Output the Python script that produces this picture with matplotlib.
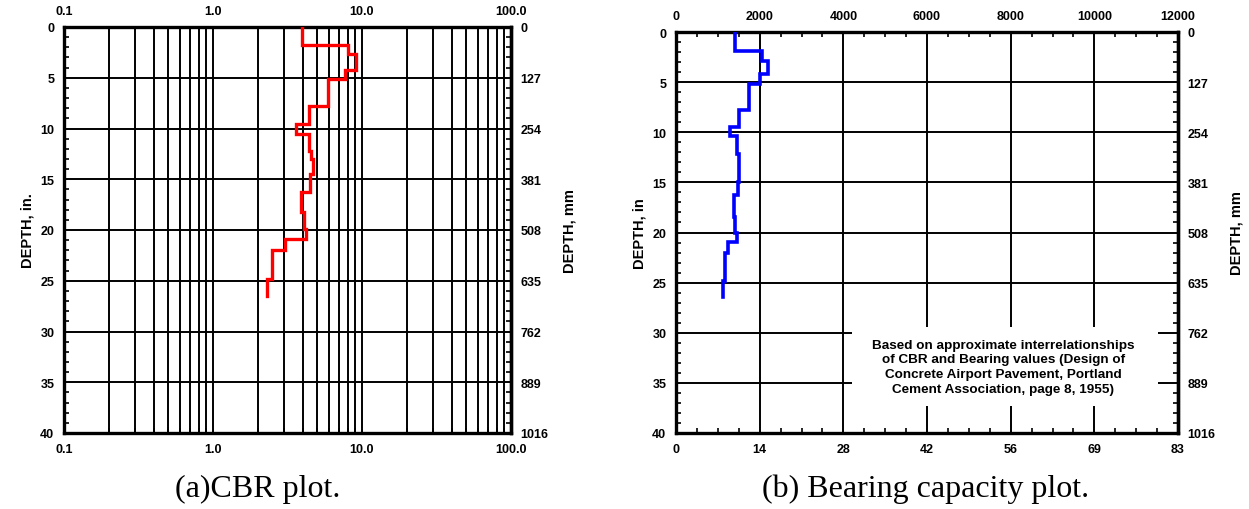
import matplotlib
matplotlib.use('Agg')
import matplotlib.pyplot as plt
from matplotlib.patches import Rectangle
from matplotlib.ticker import MultipleLocator, LogLocator, NullFormatter

plt.rcParams['font.family'] = ['Liberation Sans', 'DejaVu Sans']

# CBR profile (step plot): top depth of each layer [in], CBR value
cbr_depth = [0, 1.8, 2.7, 4.2, 5.1, 7.75, 9.6, 10.5, 12.2, 13.0, 14.5, 16.3, 18.2, 19.9, 20.9, 22.0, 24.8]
cbr_value = [3.97, 8.1, 9.1, 7.7, 5.9, 4.4, 3.6, 4.4, 4.55, 4.7, 4.5, 3.9, 4.05, 4.2, 3.05, 2.5, 2.3]
cbr_bottom = 26.5

# bearing capacity profile: top depth [in], bearing value
bc_depth = [0, 1.86, 2.86, 4.19, 5.2, 7.75, 9.5, 10.4, 12.2, 15.0, 16.3, 18.5, 20.0, 20.9, 22.0, 24.8]
bc_value = [1400, 2050, 2200, 2000, 1750, 1500, 1300, 1450, 1515, 1490, 1390, 1420, 1465, 1240, 1160, 1130]
bc_bottom = 26.4

depth_ticks = [0, 5, 10, 15, 20, 25, 30, 35, 40]
mm_labels = ['0', '127', '254', '381', '508', '635', '762', '889', '1016']
cbr_ticks = [0.1, 1, 10, 100]
cbr_labels = ['0.1', '1.0', '10.0', '100.0']
bc_ticks = [0, 2000, 4000, 6000, 8000, 10000, 12000]
bc_top_labels = ['0', '2000', '4000', '6000', '8000', '10000', '12000']
bc_bottom_labels = ['0', '14', '28', '42', '56', '69', '83']
note = ('Based on approximate interrelationships\n'
        'of CBR and Bearing values (Design of\n'
        'Concrete Airport Pavement, Portland\n'
        'Cement Association, page 8, 1955)')


def steps(depths, values, bottom):
    xs, ys = [], []
    ends = list(depths[1:]) + [bottom]
    for d0, d1, v in zip(depths, ends, values):
        xs += [v, v]
        ys += [d0, d1]
    return xs, ys


def style_depth_axis(ax, ylabel_left, ylabel_right):
    ax.set_ylim(40, 0)
    ax.set_yticks(depth_ticks)
    ax.yaxis.set_minor_locator(MultipleLocator(1))
    ax.grid(True, axis='y', which='major', color='black', lw=1.4)
    for s in ax.spines.values():
        s.set_linewidth(2.4)
    ax.tick_params(which='major', length=0, labelsize=9, pad=7)
    ax.tick_params(which='minor', direction='in', length=3.5, width=1.2,
                   left=True, right=True)
    for t in ax.get_yticklabels() + ax.get_xticklabels():
        t.set_fontweight('bold')
    ax.set_ylabel(ylabel_left, fontsize=10.5, fontweight='bold', labelpad=4)
    sec = ax.secondary_yaxis('right')
    sec.set_yticks(depth_ticks, labels=mm_labels)
    sec.tick_params(length=0, labelsize=9, pad=7)
    for t in sec.get_yticklabels():
        t.set_fontweight('bold')
    sec.set_ylabel(ylabel_right, fontsize=10.5, fontweight='bold', labelpad=10)
    sec.spines['right'].set_linewidth(2.4)
    return sec


fig = plt.figure(figsize=(12.49, 5.10), dpi=100)

# (a) CBR
ax1 = fig.add_axes([64 / 1249, 76 / 510, 447 / 1249, 406 / 510])
ax1.set_xscale('log')
ax1.set_xlim(0.1, 100)
ax1.set_xticks(cbr_ticks, labels=cbr_labels)
ax1.xaxis.set_minor_locator(LogLocator(base=10, subs=range(2, 10)))
ax1.xaxis.set_minor_formatter(NullFormatter())
ax1.grid(True, axis='x', which='both', color='black', lw=1.4)
ax1.tick_params(axis='x', labeltop=True, top=False, bottom=False)
ax1.tick_params(axis='x', which='minor', length=0)
ax1.set_axisbelow(True)
style_depth_axis(ax1, 'DEPTH, in.', 'DEPTH, mm')
xs, ys = steps(cbr_depth, cbr_value, cbr_bottom)
ax1.plot(xs, ys, color='#ff0000', lw=2.4, zorder=3, solid_joinstyle='miter')

# (b) bearing capacity
ax2 = fig.add_axes([676 / 1249, 76 / 510, 502 / 1249, 401 / 510])
ax2.set_xlim(0, 12000)
ax2.set_xticks(bc_ticks, labels=bc_bottom_labels)
ax2.xaxis.set_minor_locator(MultipleLocator(500))
ax2.grid(True, axis='x', which='major', color='black', lw=1.4)
ax2.set_axisbelow(True)
style_depth_axis(ax2, 'DEPTH, in', 'DEPTH, mm')
ax2.tick_params(axis='x', which='minor', top=True, bottom=True)
top = ax2.secondary_xaxis('top')
top.set_xticks(bc_ticks, labels=bc_top_labels)
top.tick_params(length=0, labelsize=9, pad=7)
for t in top.get_xticklabels():
    t.set_fontweight('bold')
ax2.add_patch(Rectangle((4200, 29.4), 7330, 7.9, facecolor='white',
                        edgecolor='none', zorder=1))
ax2.text(7820, 33.4, note, ha='center', va='center', fontsize=9.7,
         fontweight='bold', linespacing=1.3, zorder=2)
xs, ys = steps(bc_depth, bc_value, bc_bottom)
ax2.plot(xs, ys, color='#0000ff', lw=2.6, zorder=3, solid_joinstyle='miter')

fig.text(258 / 1249, 0.04, '(a)CBR plot.', ha='center', va='center',
         fontsize=23, family='Liberation Serif')
fig.text(926 / 1249, 0.04, '(b) Bearing capacity plot.', ha='center', va='center',
         fontsize=23, family='Liberation Serif')

fig.savefig('out.png', dpi=100)
